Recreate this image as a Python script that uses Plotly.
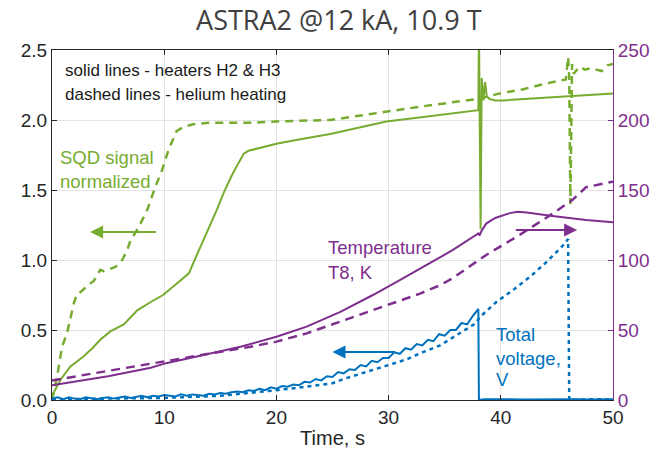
import numpy as np
import plotly.graph_objects as go

GREEN = "#77AC30"
BLUE = "#0072BD"
PURPLE = "#7E2F8E"

# SQD signal normalized (left axis)
sqd_heat_t = [0, 0.2, 0.8, 1.65, 2.8, 3.6, 4.3, 5.2, 6.4, 7.6, 8.8, 9.9, 11.1, 12.2, 12.6, 13.1,
              13.8, 14.7, 15.3, 16.0, 16.6, 17.1, 17.5, 18.5, 20, 22, 24.8, 27, 29.8, 32, 34, 36,
              38.0, 38.05, 38.2, 38.3, 38.45, 38.6, 38.75, 39.0, 39.5, 40.2, 42, 44, 46, 48, 50]
sqd_heat_v = [0.0, 0.06, 0.15, 0.24, 0.31, 0.37, 0.43, 0.49, 0.54, 0.64, 0.70, 0.75, 0.83, 0.905, 0.98, 1.07,
              1.19, 1.36, 1.48, 1.60, 1.69, 1.76, 1.78, 1.80, 1.83, 1.86, 1.90, 1.94, 1.99, 2.01, 2.03, 2.05,
              2.07, 2.7, 1.22, 2.3, 2.14, 2.27, 2.17, 2.15, 2.14, 2.14, 2.15, 2.16, 2.17, 2.18, 2.19]

sqd_he_t = [0, 0.46, 0.9, 1.35, 1.94, 2.24, 2.54, 3.2, 3.72, 4.3, 4.6, 5.2, 5.65, 6.25, 6.7, 7.0, 7.7,
            8.5, 9.2, 9.8, 10.4, 11.1, 11.7, 12.6, 14, 17.7, 20, 24.8, 28, 32.8, 36, 38.0, 39.9, 42, 44,
            45.8, 46.0, 46.1, 46.2, 46.35, 46.5, 47, 47.5, 48, 48.5, 49, 49.5, 50]
sqd_he_v = [0.0, 0.17, 0.38, 0.48, 0.69, 0.76, 0.77, 0.82, 0.85, 0.93, 0.92, 0.94, 0.95, 1.0, 1.07, 1.14, 1.23,
            1.36, 1.52, 1.64, 1.79, 1.92, 1.95, 1.97, 1.98, 1.98, 1.99, 2.0, 2.04, 2.095, 2.13, 2.15, 2.19, 2.22, 2.26,
            2.29, 2.45, 2.30, 1.40, 2.40, 2.33, 2.38, 2.36, 2.37, 2.36, 2.35, 2.39, 2.40]

# Temperature T8, K (right axis)
temp_heat_t = [0, 2.8, 5, 8.8, 10.25, 12, 14, 16.8, 20, 22.7, 25.7, 28.6, 31, 33.4, 35.7, 38.0, 38.1,
               38.3, 38.7, 39.5, 40.8, 41.5, 42.3, 44.6, 47.6, 50]
temp_heat_k = [10.5, 14, 17, 23, 26.5, 29.5, 33, 38, 45.2, 52.4, 63, 75, 85.7, 96.4, 107, 119, 117.5,
               121, 126, 130, 133.5, 134.5, 134, 131.5, 128.6, 127]

temp_he_t = [0, 2.8, 5, 8.8, 12, 14, 17.7, 20, 22.7, 25.7, 28.6, 31.6, 32.8, 34.6, 35.7, 38.7, 41.7,
             44.6, 46.4, 47.6, 50]
temp_he_k = [14, 17.9, 20.5, 26.2, 30.5, 33, 38, 41.7, 47.6, 56, 64.3, 72.6, 76, 82, 87, 103.6, 118,
             133, 143, 152, 156]

# Total voltage, V (left axis)
volt_heat_t = list(np.arange(0, 38.01, 0.5)) + [38.05, 38.5, 39.5, 40.5, 42, 43.5, 45, 46.5, 48, 49.5, 50]
volt_heat_v = [0.01, 0.02, 0.005, 0.02, 0.01, 0.005, 0.02, 0.01, 0.005, 0.015,
               0.02, 0.01, 0.015, 0.025, 0.015, 0.02, 0.03, 0.02, 0.03, 0.025,
               0.035, 0.03, 0.025, 0.04, 0.03, 0.04, 0.035, 0.03, 0.045, 0.04,
               0.05, 0.045, 0.055, 0.06, 0.055, 0.07, 0.065, 0.08, 0.07, 0.09,
               0.08, 0.10, 0.095, 0.11, 0.105, 0.13, 0.125, 0.15, 0.14, 0.17,
               0.165, 0.20, 0.19, 0.22, 0.215, 0.25, 0.24, 0.28, 0.27, 0.30,
               0.30, 0.34, 0.33, 0.37, 0.36, 0.40, 0.39, 0.43, 0.42, 0.47,
               0.46, 0.50, 0.50, 0.55, 0.54, 0.60, 0.65,
               0.0, 0.005, 0.003, 0.006, 0.004, 0.006, 0.003, 0.005, 0.004, 0.006, 0.005]

volt_he_t = [0, 5, 10, 15, 17, 20, 22.7, 25, 26, 28, 30, 31.6, 33, 34.6, 36, 37, 37.8, 38.1, 39, 39.6,
             41, 42.6, 44, 45, 45.5, 46.0, 46.1, 48, 50]
volt_he_v = [0.005, 0.008, 0.015, 0.03, 0.045, 0.07, 0.095, 0.12, 0.15, 0.2, 0.25, 0.29, 0.34, 0.39, 0.46,
             0.51, 0.55, 0.59, 0.66, 0.70, 0.78, 0.88, 0.98, 1.06, 1.10, 1.15, 0.0, 0.005, 0.005]

x_ticks = [0, 10, 20, 30, 40, 50]
y_ticks = [0.0, 0.5, 1.0, 1.5, 2.0, 2.5]
y2_ticks = [0, 50, 100, 150, 200, 250]

fig = go.Figure()
fig.add_trace(go.Scatter(x=sqd_heat_t, y=sqd_heat_v, mode="lines", line=dict(color=GREEN, width=2)))
fig.add_trace(go.Scatter(x=sqd_he_t, y=sqd_he_v, mode="lines", line=dict(color=GREEN, width=2.5, dash="8px,6px")))
fig.add_trace(go.Scatter(x=volt_heat_t, y=volt_heat_v, mode="lines", line=dict(color=BLUE, width=2)))
fig.add_trace(go.Scatter(x=volt_he_t, y=volt_he_v, mode="lines", line=dict(color=BLUE, width=2.5, dash="4px,4px")))
fig.add_trace(go.Scatter(x=temp_heat_t, y=temp_heat_k, mode="lines", yaxis="y2", line=dict(color=PURPLE, width=2)))
fig.add_trace(go.Scatter(x=temp_he_t, y=temp_he_k, mode="lines", yaxis="y2", line=dict(color=PURPLE, width=2.5, dash="9px,6px")))

FONT = "Liberation Sans"
ann = []
def txt(x, y, s, color, size=16):
    ann.append(dict(x=x, y=y, xref="x", yref="y", text=s, showarrow=False, xanchor="left", yanchor="middle",
                    font=dict(family=FONT, size=size, color=color)))

txt(1.0, 2.355, "solid lines - heaters H2 &amp; H3", "#1a1a1a", 17)
txt(1.0, 2.185, "dashed lines - helium heating", "#1a1a1a", 17)
txt(0.5, 1.73, "SQD signal", GREEN, 18.5)
txt(0.5, 1.56, "normalized", GREEN, 18.5)
txt(24.4, 1.087, "Temperature", PURPLE, 18.5)
txt(24.4, 0.91, "T8, K", PURPLE, 18.5)
txt(39.4, 0.465, "Total", BLUE, 18.5)
txt(39.4, 0.30, "voltage,", BLUE, 18.5)
txt(39.4, 0.143, "V", BLUE, 18.5)

def arrow(x_head, x_tail, y, color):
    ann.append(dict(x=x_head, y=y, ax=x_tail, ay=y, xref="x", yref="y", axref="x", ayref="y",
                    text="", showarrow=True, arrowhead=2, arrowsize=1.3, arrowwidth=2, arrowcolor=color))

arrow(3.4, 9.4, 1.2, GREEN)
arrow(46.8, 41.2, 1.214, PURPLE)
arrow(25.0, 30.7, 0.343, BLUE)

fig.update_layout(
    width=658, height=457,
    margin=dict(l=52, r=45, t=50, b=57),
    paper_bgcolor="white", plot_bgcolor="white",
    showlegend=False,
    title=dict(text="ASTRA2 @12 kA, 10.9 T", x=0.515, xanchor="center", y=0.955, yanchor="middle",
               font=dict(family="Open Sans", size=27, color="#404040")),
    xaxis=dict(range=[0, 50], tickvals=x_ticks, ticks="inside", ticklen=5, tickcolor="#262626",
               showgrid=True, gridcolor="#e3e3e3", gridwidth=1, zeroline=False, automargin=False,
               showline=True, linecolor="#262626", linewidth=1, mirror="ticks",
               tickfont=dict(family=FONT, size=19, color="#262626"),
               title=dict(text="Time, s", font=dict(family=FONT, size=20, color="#262626"), standoff=4)),
    yaxis=dict(range=[0, 2.5], tickvals=y_ticks, tickformat=".1f", ticks="inside", ticklen=5,
               tickcolor="#262626", showgrid=True, gridcolor="#e3e3e3", gridwidth=1, zeroline=False,
               showline=True, linecolor="#262626", linewidth=1, automargin=False,
               tickfont=dict(family=FONT, size=19, color="#262626")),
    yaxis2=dict(range=[0, 250], tickvals=y2_ticks, overlaying="y", side="right", ticks="inside", ticklen=5,
                tickcolor=PURPLE, showgrid=False, zeroline=False, showline=True, linecolor=PURPLE, linewidth=1,
                automargin=False, tickfont=dict(family=FONT, size=19, color=PURPLE)),
    annotations=ann,
)

# remove the default 8px page margin so the figure fills the window exactly
fig.write_html("out.html", config={"displayModeBar": False},
               post_script="document.body.style.margin='0';")
